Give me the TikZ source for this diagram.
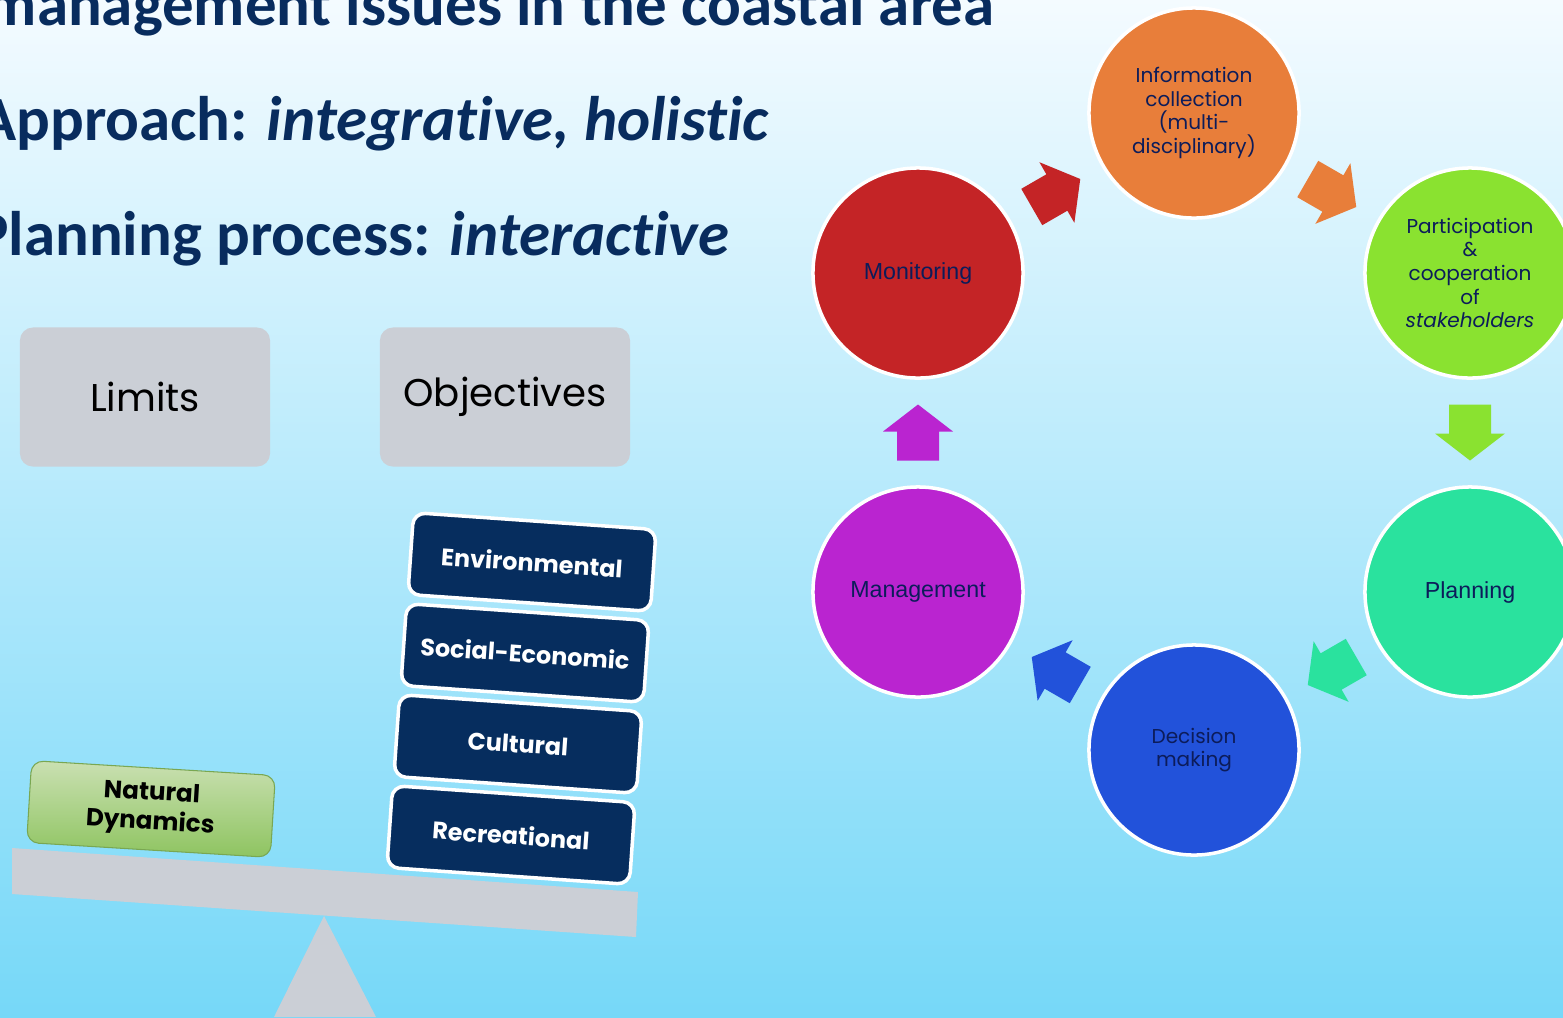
\documentclass[tikz,border=0pt]{standalone}
\usepackage{fontspec}
\setmainfont{Carlito}[Ligatures=NoCommon]
\newfontfamily\gothic{Poppins}
\newfontfamily\arialish{Liberation Sans}
\usetikzlibrary{calc, positioning}

\definecolor{titleblue}{RGB}{8,44,94}
\definecolor{inkblue}{RGB}{12,28,90}
\definecolor{boxnavy}{RGB}{6,45,94}
\definecolor{slab}{RGB}{203,207,214}
\definecolor{skytop}{RGB}{244,251,255}
\definecolor{skymid}{RGB}{196,236,250}
\definecolor{skybot}{RGB}{118,216,248}
\definecolor{monred}{RGB}{196,36,38}
\definecolor{infoorange}{RGB}{232,126,58}
\definecolor{partgreen}{RGB}{138,226,48}
\definecolor{planteal}{RGB}{42,226,158}
\definecolor{decblue}{RGB}{34,82,218}
\definecolor{mgmtpurple}{RGB}{186,36,208}
\definecolor{naturetop}{RGB}{202,224,178}
\definecolor{naturebot}{RGB}{142,196,96}

\begin{document}
\begin{tikzpicture}[
            x=0.01cm,
            y=-0.01cm,
            stage/.style={
				circle,
				minimum size=2.1cm,
				inner sep=0pt,
				draw=white,
				line width=1pt,
				align=center,
				text=inkblue,
				font=\gothic\fontsize{5.7}{6.7}\selectfont
			},
            flatstage/.style={
				stage,
				font=\arialish\fontsize{6.6}{7.6}\selectfont
			},
            criterion/.style={
				rectangle,
				rounded corners=0.13cm,
				minimum width=2.5cm,
				minimum height=1.39cm,
				fill=slab,
				font=\gothic\fontsize{11}{13}\selectfont
			},
            factor/.style={
				rectangle,
				rounded corners=0.12cm,
				minimum width=2.43cm,
				minimum height=0.82cm,
				fill=boxnavy,
				draw=white,
				line width=1pt,
				text=white,
				rotate=-4,
				font=\gothic\bfseries\fontsize{6.8}{8}\selectfont
			},
            nature/.style={
				rectangle,
				rounded corners=0.12cm,
				minimum width=2.44cm,
				minimum height=0.82cm,
				top color=naturetop,
				bottom color=naturebot,
				draw=naturebot!85!black,
				line width=0.3pt,
				rotate=-3.5,
				align=center,
				font=\gothic\bfseries\fontsize{7}{8.4}\selectfont
			},
            heading/.style={
				anchor=base east,
				inner sep=0pt,
				text=titleblue,
				font=\bfseries\fontsize{17.9}{21}\selectfont
			}
        ]

        \useasboundingbox (0,0) rectangle (1563,1017);
        \clip (0,0) rectangle (1563,1017);
        \shade[top color=skytop, middle color=skymid, bottom color=skybot] (0,0) rectangle (1563,1017);

        \node (issues) [heading] at (995,25) {management issues in the coastal area};
        \node (approach) [heading] at (770,140) {Approach: \textit{integrative, holistic}};
        \node (planproc) [heading] at (730,255) {Planning process: \textit{interactive}};

        \node (limits) [criterion] at (145,397) {Limits};
        \node (objectives) [criterion] at (505,397) {Objectives};

        \fill[slab] (12,848) -- (638,892) -- (636,937) -- (12,894) -- cycle;
        \fill[slab] (324,916) -- (376,1017) -- (274,1017) -- cycle;

        \node (natural) [nature] at (151,809) {Natural\\Dynamics};
        \node (env) [factor] at (532,562) {Environmental};
        \node (soc) [factor] at (525,653) {Social-Economic};
        \node (cult) [factor] at (518,744) {Cultural};
        \node (recr) [factor] at (511,835) {Recreational};

        \node (mon) [flatstage, fill=monred] at (918,273) {Monitoring};
        \node (info) [stage, fill=infoorange] at (1194,113) {Information\\collection\\(multi-\\disciplinary)};
        \node (part) [stage, fill=partgreen] at (1470,273) {Participation\\\&\\cooperation\\of\\\textit{stakeholders}};
        \node (plan) [flatstage, fill=planteal] at (1470,592) {Planning};
        \node (dec) [stage, fill=decblue] at (1194,750) {Decision\\making};
        \node (mgmt) [flatstage, fill=mgmtpurple] at (918,592) {Management};

        \foreach \from/\to/\ang/\col in {mon/info/30/monred, info/part/-30/infoorange, part/plan/-90/partgreen, plan/dec/-150/planteal, dec/mgmt/150/decblue, mgmt/mon/90/mgmtpurple}
            \fill[\col, shift={($(\from)!0.5!(\to)$)}, rotate=\ang] (-28,-21) -- (1,-21) -- (1,-35) -- (28,0) -- (1,35) -- (1,21) -- (-28,21) -- cycle;

        \end{tikzpicture}
\end{document}
